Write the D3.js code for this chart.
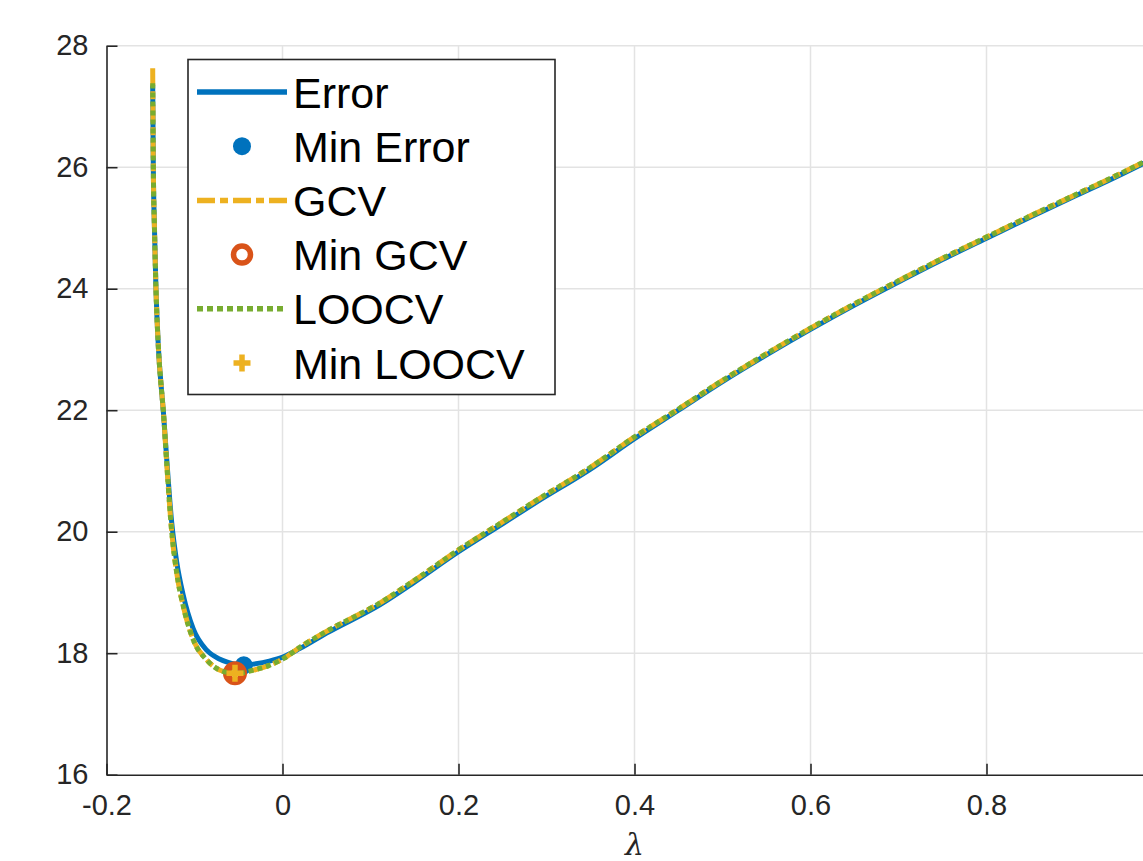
<!DOCTYPE html>
<html>
<head>
<style>
  body { margin: 0; background: #fff; }
  svg text { font-family: "Liberation Sans", Arial, sans-serif; }
</style>
</head>
<body>
<script src="https://d3js.org/d3.v7.min.js"></script>
<script>
// values
const lambda = [-0.1475, -0.1468, -0.1455, -0.1438, -0.1409, -0.1373, -0.1355, -0.1316, -0.1259, -0.1202,
  -0.1127, -0.1014, -0.0861, -0.071, -0.054, -0.044, -0.0332, -0.015, 0.001, 0.02,
  0.05, 0.111, 0.15, 0.2, 0.25, 0.289, 0.35, 0.4, 0.45, 0.5,
  0.55, 0.6, 0.65, 0.7, 0.75, 0.8, 0.85, 0.9, 0.95, 1.0]
const errorVals = [27.35, 26.0, 25.0, 24.0, 23.0, 22.3, 22.0, 21.2, 20.15, 19.5,
  18.95, 18.4, 18.05, 17.9, 17.82, 17.8, 17.82, 17.87, 17.94, 18.08,
  18.33, 18.8, 19.17, 19.67, 20.13, 20.49, 21.03, 21.53, 22.0, 22.47,
  22.91, 23.33, 23.73, 24.11, 24.48, 24.83, 25.18, 25.52, 25.86, 26.22]
const gcvVals = [27.63, 26.0, 25.0, 24.0, 23.0, 22.3, 22.0, 21.13, 20.0, 19.32,
  18.77, 18.22, 17.89, 17.72, 17.67, 17.68, 17.72, 17.8, 17.91, 18.1,
  18.36, 18.83, 19.2, 19.7, 20.16, 20.52, 21.06, 21.56, 22.02, 22.49,
  22.93, 23.35, 23.75, 24.13, 24.5, 24.85, 25.2, 25.54, 25.88, 26.24]
const loocvVals = [27.38, 26.0, 25.0, 24.0, 23.0, 22.3, 22.0, 21.13, 20.0, 19.32,
  18.77, 18.22, 17.89, 17.72, 17.67, 17.68, 17.72, 17.8, 17.91, 18.1,
  18.36, 18.83, 19.2, 19.7, 20.16, 20.52, 21.06, 21.56, 22.02, 22.49,
  22.93, 23.35, 23.75, 24.13, 24.5, 24.85, 25.2, 25.54, 25.88, 26.24]
const minError = [-0.044, 17.8]
const minGCV = [-0.054, 17.67]
const minLOOCV = [-0.054, 17.67]
const xTicks = [-0.2, 0, 0.2, 0.4, 0.6, 0.8]
const xTickLabels = ["-0.2", "0", "0.2", "0.4", "0.6", "0.8"]
const yTicks = [16, 18, 20, 22, 24, 26, 28]
const yTickLabels = ["16", "18", "20", "22", "24", "26", "28"]
const legendLabels = ["Error", "Min Error", "GCV", "Min GCV", "LOOCV", "Min LOOCV"]

const W = 1143, H = 861
const blue = "#0072BD", orange = "#D95319", yellow = "#EDB120", green = "#77AC30"
const axisCol = "#262626", gridCol = "#e3e3e3"

const svg = d3.select("body").append("svg").attr("width", W).attr("height", H)

const x = d3.scaleLinear().domain([-0.2, 1]).range([106.5, 1162.5])
const y = d3.scaleLinear().domain([16, 28]).range([774.7, 45.7])

// grid
svg.append("g").selectAll("line").data(xTicks.slice(1)).enter().append("line")
  .attr("x1", d => x(d)).attr("x2", d => x(d))
  .attr("y1", y(16)).attr("y2", y(28))
  .attr("stroke", gridCol).attr("stroke-width", 1.5)
svg.append("g").selectAll("line").data(yTicks.slice(1)).enter().append("line")
  .attr("x1", x(-0.2)).attr("x2", x(1))
  .attr("y1", d => y(d)).attr("y2", d => y(d))
  .attr("stroke", gridCol).attr("stroke-width", 1.5)

// axes
const xAxis = d3.axisBottom(x).tickValues(xTicks).tickSizeInner(-11).tickSizeOuter(0)
  .tickPadding(20).tickFormat((d, i) => xTickLabels[i])
const gx = svg.append("g").attr("transform", `translate(0,${y(16)})`).call(xAxis)
const yAxis = d3.axisLeft(y).tickValues(yTicks).tickSizeInner(-11).tickSizeOuter(0)
  .tickPadding(18).tickFormat((d, i) => yTickLabels[i])
const gy = svg.append("g").attr("transform", `translate(${x(-0.2)},0)`).call(yAxis)
for (const g of [gx, gy]) {
  g.select(".domain").attr("stroke", axisCol).attr("stroke-width", 1.6)
  g.selectAll(".tick line").attr("stroke", axisCol).attr("stroke-width", 1.6)
  g.selectAll(".tick text").attr("fill", axisCol).style("font-size", "29px")
    .style("font-family", "Liberation Sans, Arial, sans-serif")
}
gx.selectAll(".tick text").attr("dy", "0.71em")

svg.append("text").attr("x", x(0.4)).attr("y", 855)
  .attr("text-anchor", "middle").attr("fill", axisCol)
  .style("font-size", "30px").style("font-style", "italic")
  .style("font-family", "DejaVu Serif, serif")
  .text("λ")

// curves
const line = vals => d3.line().curve(d3.curveMonotoneX)
  .x((d, i) => x(lambda[i])).y(d => y(d))(vals)

svg.append("path").attr("d", line(errorVals)).attr("fill", "none")
  .attr("stroke", blue).attr("stroke-width", 5).attr("stroke-linejoin", "round")
svg.append("circle").attr("cx", x(minError[0])).attr("cy", y(minError[1])).attr("r", 9).attr("fill", blue)
svg.append("path").attr("d", line(gcvVals)).attr("fill", "none")
  .attr("stroke", yellow).attr("stroke-width", 5).attr("stroke-dasharray", "18,5,8,5")
svg.append("circle").attr("cx", x(minGCV[0])).attr("cy", y(minGCV[1])).attr("r", 8)
  .attr("fill", "none").attr("stroke", orange).attr("stroke-width", 8)
svg.append("path").attr("d", line(loocvVals)).attr("fill", "none")
  .attr("stroke", green).attr("stroke-width", 5).attr("stroke-dasharray", "5,4")

function cross(g, cx, cy, s, w) {
  g.append("line").attr("x1", cx - s).attr("x2", cx + s).attr("y1", cy).attr("y2", cy)
    .attr("stroke", yellow).attr("stroke-width", w)
  g.append("line").attr("x1", cx).attr("x2", cx).attr("y1", cy - s).attr("y2", cy + s)
    .attr("stroke", yellow).attr("stroke-width", w)
}
cross(svg, x(minLOOCV[0]), y(minLOOCV[1]), 8.5, 5.5)

// legend
const lg = svg.append("g")
lg.append("rect").attr("x", 188).attr("y", 59.5).attr("width", 367).attr("height", 335)
  .attr("fill", "#fff").attr("stroke", axisCol).attr("stroke-width", 1.6)
const rowY = i => 92 + i * 54.2
legendLabels.forEach((lab, i) => {
  lg.append("text").attr("x", 293).attr("y", rowY(i) + 15.5).attr("fill", "#000")
    .style("font-size", "43px").text(lab)
})
lg.append("line").attr("x1", 197).attr("x2", 287).attr("y1", rowY(0)).attr("y2", rowY(0))
  .attr("stroke", blue).attr("stroke-width", 5.5)
lg.append("circle").attr("cx", 242).attr("cy", rowY(1)).attr("r", 9).attr("fill", blue)
lg.append("line").attr("x1", 197).attr("x2", 287).attr("y1", rowY(2)).attr("y2", rowY(2))
  .attr("stroke", yellow).attr("stroke-width", 5.5).attr("stroke-dasharray", "18,5,8,5")
lg.append("circle").attr("cx", 242).attr("cy", rowY(3)).attr("r", 8.5)
  .attr("fill", "none").attr("stroke", orange).attr("stroke-width", 5.5)
lg.append("line").attr("x1", 197).attr("x2", 287).attr("y1", rowY(4)).attr("y2", rowY(4))
  .attr("stroke", green).attr("stroke-width", 5.5).attr("stroke-dasharray", "6,4")
cross(lg, 242, rowY(5), 8.5, 5.5)
</script>
</body>
</html>
